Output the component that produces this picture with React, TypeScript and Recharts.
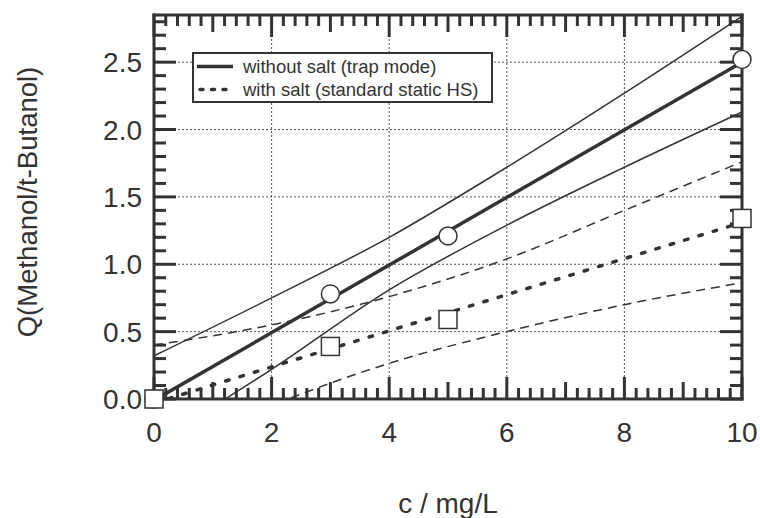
import React from 'react';
import { ComposedChart, Line, Scatter, XAxis, YAxis, CartesianGrid, Legend, Label, ReferenceLine } from 'recharts';

// ---- data ----
const concNoSalt = [0, 3, 5, 10];
const qNoSalt = [0.0, 0.78, 1.21, 2.52];
const concSalt = [0, 3, 5, 10];
const qSalt = [0.0, 0.39, 0.59, 1.34];

const fitX = [0, 10];
const fitNoSalt = [-0.01, 2.5];
const fitSalt = [-0.03, 1.31];

const bandX = [0, 2, 4, 6, 8, 10];
const upperNoSalt = [0.32, 0.75, 1.2, 1.72, 2.27, 2.84];
const lowerNoSalt = [-0.33, 0.22, 0.81, 1.29, 1.72, 2.13];
const upperSalt = [0.4, 0.55, 0.76, 1.04, 1.4, 1.76];
const lowerSalt = [-0.45, -0.05, 0.265, 0.5, 0.7, 0.863];

const xGridValues = [2, 4, 6, 8];
const yGridValues = [0.5, 1.0, 1.5, 2.0, 2.5];
const legendLabels = ['without salt (trap mode)', 'with salt (standard static HS)'];
const xTitle = 'c / mg/L';
const yTitle = 'Q(Methanol/t-Butanol)';

const xDomain: [number, number] = [0, 10];
const yDomain: [number, number] = [0, 2.85];
const xTicks = Array.from({ length: 51 }, (_, i) => Math.round(i * 2) / 10);
const yTicks = Array.from({ length: 29 }, (_, i) => i / 10);

const pts = (xs: number[], ys: number[]) => xs.map((x, i) => ({ x, y: ys[i] }));

// layout
const CHART_W = 760;
const CHART_H = 518;
const LEFT_W = 154;
const RIGHT_W = 18;
const TOP_H = 15;
const BOTTOM_H = 119;
const PLOT_W = CHART_W - LEFT_W - RIGHT_W;
const PLOT_H = CHART_H - TOP_H - BOTTOM_H;
const pxToX = (px: number) => (px * (xDomain[1] - xDomain[0])) / PLOT_W;
const pxToY = (px: number) => (px * (yDomain[1] - yDomain[0])) / PLOT_H;

const INK = '#333';
const TEXT = '#333';
const FONT = '"Liberation Sans", Arial, Helvetica, sans-serif';

const near = (a: number, b: number) => Math.abs(a - b) < 1e-6;
const isMajorX = (v: number) => near(v / 2, Math.round(v / 2));
const isIntX = (v: number) => near(v, Math.round(v));
const xLen = (v: number) => (isMajorX(v) ? 22 : isIntX(v) ? 17 : 11);
const isMajorY = (v: number) => near(v * 2, Math.round(v * 2));
const yLen = (v: number) => (isMajorY(v) ? 22 : 12);

const BottomTick = (p: any) => {
  const v = Number(p.payload.value);
  if (!isMajorX(v)) return <g />;
  return (
    <text x={p.x} y={Number(p.y) + 43} textAnchor="middle" fontSize={28} fontFamily={FONT} fill={TEXT} stroke="none">
      {String(Math.round(v))}
    </text>
  );
};
const LeftTick = (p: any) => {
  const v = Number(p.payload.value);
  if (!isMajorY(v)) return <g />;
  return (
    <text x={Number(p.x) - 12} y={Number(p.y) + 10} textAnchor="end" fontSize={28} fontFamily={FONT} fill={TEXT} stroke="none">
      {v.toFixed(1)}
    </text>
  );
};

const XTitle = (p: any) => {
  const vb = p.viewBox;
  return (
    <text x={vb.x + vb.width / 2} y={vb.y + 114} textAnchor="middle" fontSize={28} fontFamily={FONT} fill={TEXT}>
      {xTitle}
    </text>
  );
};
const YTitle = (p: any) => {
  const vb = p.viewBox;
  const cx = vb.x + 37;
  const cy = vb.y + vb.height / 2 - 5;
  return (
    <text x={cx} y={cy} transform={`rotate(-90 ${cx} ${cy})`} textAnchor="middle" fontSize={27.5} fontFamily={FONT} fill={TEXT}>
      {yTitle}
    </text>
  );
};

const CircleMark = (p: any) => <circle cx={p.cx} cy={p.cy} r={9} fill="#fff" stroke={INK} strokeWidth={1.5} />;
const SquareMark = (p: any) => <rect x={p.cx - 9} y={p.cy - 9} width={18} height={18} fill="#fff" stroke={INK} strokeWidth={1.5} />;

const LegendBox = () => (
  <div
    style={{
      width: 301,
      height: 51,
      boxSizing: 'border-box',
      border: `2px solid ${INK}`,
      background: '#fff',
      fontFamily: FONT,
      fontSize: 18.5,
      color: TEXT,
      lineHeight: '23px',
      paddingTop: 1,
    }}
  >
    {legendLabels.map((label, i) => (
      <div key={i} style={{ height: 23, display: 'flex', alignItems: 'center', whiteSpace: 'nowrap' }}>
        <svg width={36} height={23} style={{ marginLeft: 3, flex: 'none', display: 'block' }}>
          {i === 0 ? (
            <line x1={0} y1={11.5} x2={36} y2={11.5} stroke={INK} strokeWidth={3.5} />
          ) : (
            <line x1={3} y1={11.5} x2={34} y2={11.5} stroke={INK} strokeWidth={3.5} strokeDasharray="3 8.5" strokeLinecap="round" />
          )}
        </svg>
        <span style={{ marginLeft: 10 }}>{label}</span>
      </div>
    ))}
  </div>
);

const axisLine = { stroke: INK, strokeWidth: 3, strokeLinecap: 'square' as const };

const tickMarks = (): React.ReactNode[] => {
  const out: React.ReactNode[] = [];
  xTicks.forEach((v) => {
    const l = pxToY(xLen(v));
    out.push(
      <ReferenceLine key={`b${v}`} xAxisId="b" yAxisId="l" ifOverflow="visible" stroke={INK} strokeWidth={3}
        segment={[{ x: v, y: yDomain[0] }, { x: v, y: yDomain[0] + l }]} />,
      <ReferenceLine key={`t${v}`} xAxisId="b" yAxisId="l" ifOverflow="visible" stroke={INK} strokeWidth={3}
        segment={[{ x: v, y: yDomain[1] }, { x: v, y: yDomain[1] - l }]} />
    );
  });
  yTicks.forEach((v) => {
    const l = pxToX(yLen(v));
    out.push(
      <ReferenceLine key={`l${v}`} xAxisId="b" yAxisId="l" ifOverflow="visible" stroke={INK} strokeWidth={3}
        segment={[{ x: xDomain[0], y: v }, { x: xDomain[0] + l, y: v }]} />,
      <ReferenceLine key={`r${v}`} xAxisId="b" yAxisId="l" ifOverflow="visible" stroke={INK} strokeWidth={3}
        segment={[{ x: xDomain[1], y: v }, { x: xDomain[1] - l, y: v }]} />
    );
  });
  return out;
};

export default function App() {
  return (
    <div style={{ position: 'absolute', left: 0, top: 0, width: CHART_W, height: CHART_H, background: '#fff' }}>
      <ComposedChart width={CHART_W} height={CHART_H} margin={{ top: 0, right: 0, bottom: 0, left: 0 }}>
        <CartesianGrid
          xAxisId="b"
          yAxisId="l"
          verticalValues={xGridValues}
          horizontalValues={yGridValues}
          stroke="#555"
          strokeDasharray="2 2"
          strokeWidth={1}
        />
        <XAxis
          xAxisId="b"
          type="number"
          dataKey="x"
          domain={xDomain}
          ticks={xTicks}
          interval={0}
          height={BOTTOM_H}
          tickSize={0}
          tickMargin={0}
          tick={BottomTick}
          stroke={INK}
          axisLine={axisLine}
          tickLine={false}
        >
          <Label content={XTitle} />
        </XAxis>
        <XAxis
          xAxisId="t"
          orientation="top"
          type="number"
          dataKey="x"
          domain={xDomain}
          ticks={xTicks}
          interval={0}
          height={TOP_H}
          tick={false}
          stroke={INK}
          axisLine={axisLine}
          tickLine={false}
        />
        <YAxis
          yAxisId="l"
          type="number"
          dataKey="y"
          domain={yDomain}
          allowDataOverflow
          ticks={yTicks}
          interval={0}
          width={LEFT_W}
          tickSize={0}
          tickMargin={0}
          tick={LeftTick}
          stroke={INK}
          axisLine={axisLine}
          tickLine={false}
        >
          <Label content={YTitle} />
        </YAxis>
        <YAxis
          yAxisId="r"
          orientation="right"
          type="number"
          dataKey="y"
          domain={yDomain}
          ticks={yTicks}
          interval={0}
          width={RIGHT_W}
          tick={false}
          stroke={INK}
          axisLine={axisLine}
          tickLine={false}
        />

        <Line data={pts(bandX, upperNoSalt)} dataKey="y" xAxisId="b" yAxisId="l" type="monotone" stroke={INK} strokeWidth={1.5} dot={false} activeDot={false} isAnimationActive={false} />
        <Line data={pts(bandX, lowerNoSalt)} dataKey="y" xAxisId="b" yAxisId="l" type="monotone" stroke={INK} strokeWidth={1.5} dot={false} activeDot={false} isAnimationActive={false} />
        <Line data={pts(bandX, upperSalt)} dataKey="y" xAxisId="b" yAxisId="l" type="monotone" stroke={INK} strokeWidth={1.5} strokeDasharray="9 6" dot={false} activeDot={false} isAnimationActive={false} />
        <Line data={pts(bandX, lowerSalt)} dataKey="y" xAxisId="b" yAxisId="l" type="monotone" stroke={INK} strokeWidth={1.5} strokeDasharray="9 6" dot={false} activeDot={false} isAnimationActive={false} />
        <Line data={pts(fitX, fitNoSalt)} dataKey="y" xAxisId="b" yAxisId="l" type="linear" stroke={INK} strokeWidth={3.5} dot={false} activeDot={false} isAnimationActive={false} />
        <Line data={pts(fitX, fitSalt)} dataKey="y" xAxisId="b" yAxisId="l" type="linear" stroke={INK} strokeWidth={3.5} strokeDasharray="3.5 11.5" strokeLinecap="round" dot={false} activeDot={false} isAnimationActive={false} />

        {tickMarks()}

        <Scatter data={pts(concNoSalt, qNoSalt)} dataKey="y" xAxisId="t" yAxisId="r" shape={CircleMark} isAnimationActive={false} />
        <Scatter data={pts(concSalt, qSalt)} dataKey="y" xAxisId="t" yAxisId="r" shape={SquareMark} isAnimationActive={false} />

        <Legend layout="vertical" align="center" verticalAlign="middle" content={<LegendBox />} wrapperStyle={{ left: 192, top: 52, width: 301 }} />
      </ComposedChart>
    </div>
  );
}
